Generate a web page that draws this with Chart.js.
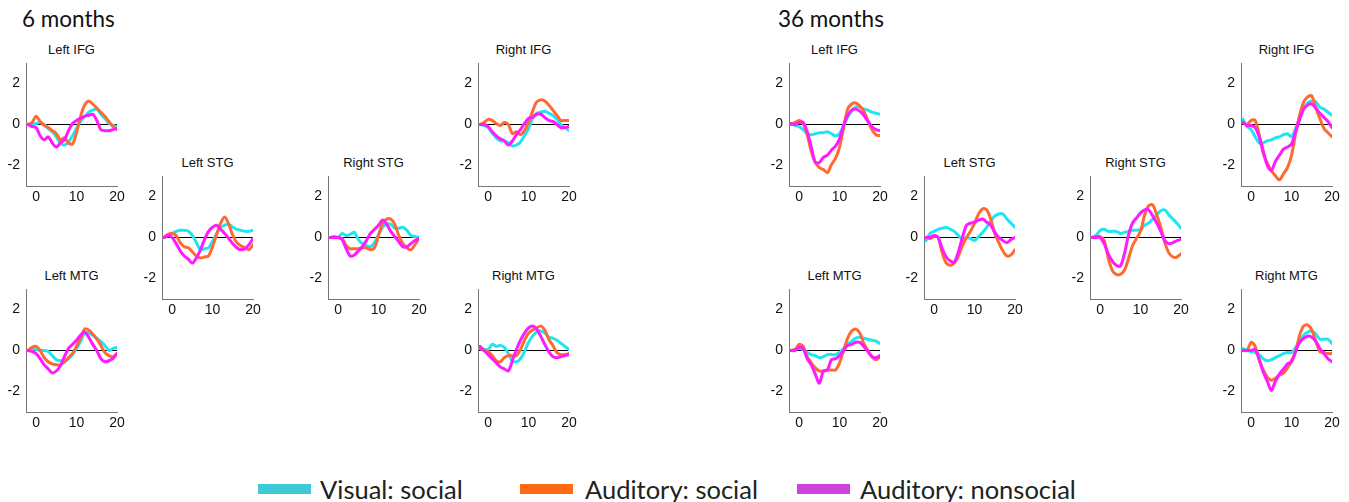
<!DOCTYPE html>
<html>
<head>
<meta charset="utf-8">
<script src="https://cdn.jsdelivr.net/npm/chart.js@4.4.0/dist/chart.umd.min.js"></script>
<style>
    body { margin: 0; background: #fff; width: 1349px; height: 502px; position: relative; overflow: hidden; font-family: "Liberation Sans", Arial, sans-serif; }
    canvas { position: absolute; }
    .group { position: absolute; font-family: Lato, "Open Sans", sans-serif; font-size: 22.5px; line-height: 26px; color: #111; }
    .ptitle { position: absolute; width: 91px; text-align: center; font-size: 13px; line-height: 16px; color: #111; white-space: nowrap; }
    .swatch { position: absolute; height: 10px; }
    .ltext { position: absolute; font-family: Lato, "Open Sans", sans-serif; font-size: 25.5px; line-height: 30px; color: #222; white-space: nowrap; }
</style>
</head>
<body>
<script>
// time axis (s) and ticks
const timeSec = [-2, -1, 0, 1, 2, 3, 4, 5, 6, 7, 8, 9, 10, 11, 12, 13, 14, 15, 16, 17, 18, 19, 20];
const xTicks = [0, 10, 20];
const yTicks = [-2, 0, 2];
const groupLabels = ["6 months", "36 months"];
const seriesNames = ["Visual: social", "Auditory: social", "Auditory: nonsocial"];

// ---- 6 months ----
const m6LeftIFG_vis  = [0, 0, 0.05, 0.1, 0, -0.2, -0.35, -0.6, -0.9, -1.0, -0.85, -0.55, -0.2, 0.15, 0.4, 0.6, 0.7, 0.75, 0.5, 0.3, 0.05, -0.05, -0.1];
const m6LeftIFG_aud  = [0, 0.1, 0.4, 0.15, -0.05, -0.15, -0.3, -0.45, -0.75, -0.65, -0.9, -0.95, -0.4, 0.4, 0.95, 1.15, 1.0, 0.8, 0.6, 0.4, 0.15, -0.1, -0.25];
const m6LeftIFG_non  = [0, -0.1, -0.15, -0.55, -0.75, -0.6, -0.9, -1.1, -0.9, -0.75, -0.3, 0.05, 0.2, 0.3, 0.4, 0.45, 0.5, 0.2, -0.25, -0.3, -0.3, -0.25, -0.2];

const m6LeftSTG_vis  = [0, 0.1, 0.2, 0.3, 0.35, 0.35, 0.3, 0.1, -0.25, -0.6, -0.55, -0.5, -0.2, 0.2, 0.5, 0.6, 0.65, 0.5, 0.4, 0.35, 0.3, 0.3, 0.35];
const m6LeftSTG_aud  = [0, 0.15, 0.2, 0.1, -0.25, -0.45, -0.5, -0.7, -0.9, -1.0, -0.95, -0.9, -0.45, 0.15, 0.7, 1.0, 0.65, 0.1, -0.25, -0.4, -0.5, -0.6, -0.35];
const m6LeftSTG_non  = [0, 0.1, 0, -0.3, -0.65, -0.9, -1.05, -1.25, -1.0, -0.6, -0.1, 0.3, 0.5, 0.6, 0.4, 0.2, -0.05, -0.3, -0.5, -0.6, -0.55, -0.35, -0.05];

const m6RightSTG_vis = [0, 0, 0, 0.2, 0.1, 0.15, 0.25, -0.1, -0.3, -0.4, -0.45, -0.25, 0.15, 0.5, 0.65, 0.65, 0.45, 0.45, 0.5, 0.35, 0.1, 0.05, 0];
const m6RightSTG_aud = [0, 0.05, 0, -0.05, -0.4, -0.55, -0.55, -0.55, -0.5, -0.5, -0.6, -0.5, 0.1, 0.7, 0.9, 0.9, 0.65, 0.1, -0.3, -0.5, -0.6, -0.35, -0.05];
const m6RightSTG_non = [0, 0, 0, -0.1, -0.55, -0.9, -0.85, -0.65, -0.45, -0.15, 0.2, 0.4, 0.6, 0.85, 0.65, 0.3, 0.05, -0.2, -0.45, -0.45, -0.3, -0.15, -0.05];

const m6RightIFG_vis = [0, -0.05, -0.15, -0.4, -0.65, -0.8, -0.8, -0.9, -1.05, -1.0, -0.85, -0.55, -0.2, 0.3, 0.55, 0.6, 0.65, 0.55, 0.45, 0.25, 0, -0.15, -0.3];
const m6RightIFG_aud = [0, 0.1, 0.25, 0.2, 0.05, -0.05, 0.1, 0, -0.45, -0.35, -0.5, -0.3, 0.1, 0.65, 1.1, 1.2, 1.15, 0.95, 0.7, 0.45, 0.2, 0.2, 0.2];
const m6RightIFG_non = [0, 0, -0.1, -0.35, -0.55, -0.7, -0.8, -1.0, -0.8, -0.5, -0.25, 0.05, 0.3, 0.35, 0.5, 0.5, 0.35, 0.2, 0.15, 0, -0.15, -0.15, -0.1];

const m6LeftMTG_vis  = [0, 0.05, 0.05, 0, 0, -0.05, -0.25, -0.45, -0.5, -0.5, -0.4, -0.2, 0.1, 0.45, 0.85, 0.85, 0.75, 0.6, 0.45, 0.25, 0, 0.1, 0.15];
const m6LeftMTG_aud  = [0, 0.15, 0.2, 0, -0.35, -0.55, -0.65, -0.7, -0.7, -0.55, -0.35, -0.15, 0.2, 0.6, 1.05, 1.0, 0.8, 0.55, 0.25, -0.1, -0.25, -0.3, -0.15];
const m6LeftMTG_non  = [0, -0.05, -0.15, -0.4, -0.7, -0.9, -1.1, -1.0, -0.75, -0.3, 0.1, 0.3, 0.5, 0.75, 0.9, 0.65, 0.3, 0, -0.4, -0.55, -0.5, -0.4, -0.15];

const m6RightMTG_vis = [0.1, 0.05, 0.05, 0.3, 0.2, 0.25, 0.15, -0.15, -0.5, -0.55, -0.4, -0.05, 0.4, 0.7, 0.9, 0.95, 0.85, 0.65, 0.6, 0.5, 0.35, 0.2, 0.05];
const m6RightMTG_aud = [0.1, 0, -0.05, -0.25, -0.5, -0.55, -0.35, -0.25, -0.25, -0.25, 0.05, 0.5, 0.85, 1.0, 1.1, 1.2, 1.0, 0.55, 0.25, -0.1, -0.2, -0.2, -0.15];
const m6RightMTG_non = [0.2, 0, -0.2, -0.4, -0.6, -0.8, -0.9, -1.0, -0.5, 0.05, 0.5, 0.85, 1.1, 1.2, 1.05, 0.7, 0.3, -0.05, -0.3, -0.35, -0.3, -0.25, -0.2];

// ---- 36 months ----
const m36LeftIFG_vis  = [0.05, -0.05, -0.1, -0.25, -0.45, -0.5, -0.45, -0.4, -0.4, -0.35, -0.45, -0.55, -0.45, -0.05, 0.35, 0.65, 0.85, 0.85, 0.75, 0.7, 0.6, 0.55, 0.5];
const m36LeftIFG_aud  = [0, 0.1, 0.2, 0.05, -0.5, -1.3, -1.85, -2.1, -2.2, -2.35, -1.95, -1.65, -1.1, -0.15, 0.75, 1.0, 1.05, 0.9, 0.65, 0.2, -0.25, -0.5, -0.55];
const m36LeftIFG_non  = [0.05, 0, 0.1, 0.1, -0.35, -1.1, -1.85, -1.85, -1.6, -1.5, -1.25, -1.05, -0.7, -0.05, 0.45, 0.7, 0.75, 0.65, 0.45, 0.15, -0.1, -0.25, -0.3];

const m36LeftSTG_vis  = [-0.15, 0.2, 0.3, 0.4, 0.45, 0.5, 0.4, 0.3, 0.1, -0.1, 0, -0.05, -0.15, 0.05, 0.25, 0.5, 0.8, 1.05, 1.15, 1.15, 0.9, 0.7, 0.5];
const m36LeftSTG_aud  = [0, -0.05, 0.05, 0, -0.75, -1.25, -1.35, -1.25, -0.9, -0.4, 0, 0.3, 0.7, 1.15, 1.4, 1.35, 0.9, 0.2, -0.25, -0.65, -0.9, -0.85, -0.6];
const m36LeftSTG_non  = [0, 0, 0.1, 0, -0.55, -0.95, -1.15, -1.2, -0.7, 0, 0.6, 0.7, 0.75, 0.85, 0.9, 0.75, 0.6, 0.25, 0, -0.15, -0.25, -0.1, 0];

const m36RightSTG_vis = [0, 0.1, 0.35, 0.4, 0.3, 0.3, 0.3, 0.2, 0.25, 0.3, 0.35, 0.35, 0.4, 0.6, 0.7, 0.9, 1.1, 1.3, 1.35, 1.1, 0.9, 0.7, 0.45];
const m36RightSTG_aud = [0, 0.05, 0.05, -0.15, -1.0, -1.6, -1.8, -1.8, -1.6, -1.05, -0.4, -0.05, 0.3, 1.1, 1.55, 1.6, 1.1, 0.5, -0.25, -0.75, -0.95, -0.95, -0.8];
const m36RightSTG_non = [0, 0, 0, -0.3, -0.8, -1.15, -1.35, -1.4, -0.8, 0.1, 0.7, 0.95, 1.2, 1.35, 1.35, 1.05, 0.7, 0.3, -0.15, -0.3, -0.25, -0.15, -0.1];

const m36RightIFG_vis = [0.25, -0.1, -0.25, -0.6, -0.9, -0.9, -0.8, -0.75, -0.65, -0.6, -0.5, -0.45, -0.6, -0.2, 0.3, 0.8, 1.05, 1.15, 1.1, 0.85, 0.75, 0.6, 0.45];
const m36RightIFG_aud = [0.1, 0, 0.2, 0.2, -0.5, -1.4, -1.9, -2.25, -2.5, -2.7, -2.4, -2.1, -1.5, -0.45, 0.45, 1.1, 1.35, 1.4, 0.8, 0.3, -0.2, -0.4, -0.6];
const m36RightIFG_non = [0.1, -0.05, -0.05, -0.15, -0.6, -1.3, -2.0, -2.25, -1.8, -1.5, -1.2, -1.1, -0.95, -0.35, 0.25, 0.75, 0.95, 1.0, 0.8, 0.55, 0.35, 0.15, -0.15];

const m36LeftMTG_vis  = [0, 0.05, 0.1, 0.05, -0.1, -0.2, -0.25, -0.35, -0.3, -0.2, -0.2, -0.2, -0.1, 0.1, 0.3, 0.45, 0.6, 0.65, 0.6, 0.55, 0.5, 0.45, 0.35];
const m36LeftMTG_aud  = [0, 0.05, 0.3, 0.2, -0.3, -0.6, -0.85, -1.0, -1.0, -0.95, -0.95, -0.95, -0.6, 0, 0.6, 0.95, 1.05, 0.85, 0.35, 0, -0.3, -0.45, -0.3];
const m36LeftMTG_non  = [0, 0, 0.15, 0.1, -0.4, -0.7, -1.15, -1.6, -1.0, -0.95, -0.45, -0.4, -0.25, 0, 0.25, 0.3, 0.4, 0.4, 0.2, -0.05, -0.3, -0.35, -0.25];

const m36RightMTG_vis = [0.1, 0, -0.05, -0.1, -0.2, -0.4, -0.5, -0.45, -0.35, -0.25, -0.15, -0.1, -0.1, 0.15, 0.45, 0.75, 0.9, 0.95, 0.8, 0.55, 0.55, 0.55, 0.35];
const m36RightMTG_aud = [0, 0, 0.4, 0.2, -0.45, -0.95, -1.3, -1.45, -1.35, -1.2, -1.1, -0.85, -0.5, -0.05, 0.75, 1.2, 1.25, 1.0, 0.45, -0.05, -0.1, -0.15, -0.15];
const m36RightMTG_non = [0, 0, 0, 0.05, -0.45, -1.05, -1.5, -1.95, -1.5, -1.15, -0.9, -0.65, -0.55, -0.05, 0.4, 0.6, 0.7, 0.65, 0.45, 0.1, -0.15, -0.4, -0.55];

// colours
const LINE_COLORS = ["#1ee6f0", "#ff6a33", "#ff1aff"];
const KEY_COLORS = ["#3ec9d6", "#ff6a14", "#cc44dd"];

// panel placement: left edge / top edge of each plot area
const panels = [
    { title: "Left IFG",  x: 26,   y: 63,  d: [m6LeftIFG_vis, m6LeftIFG_aud, m6LeftIFG_non] },
    { title: "Left STG",  x: 162,  y: 176, d: [m6LeftSTG_vis, m6LeftSTG_aud, m6LeftSTG_non] },
    { title: "Right STG", x: 328,  y: 176, d: [m6RightSTG_vis, m6RightSTG_aud, m6RightSTG_non] },
    { title: "Right IFG", x: 478,  y: 63,  d: [m6RightIFG_vis, m6RightIFG_aud, m6RightIFG_non] },
    { title: "Left MTG",  x: 26,   y: 289, d: [m6LeftMTG_vis, m6LeftMTG_aud, m6LeftMTG_non] },
    { title: "Right MTG", x: 478,  y: 289, d: [m6RightMTG_vis, m6RightMTG_aud, m6RightMTG_non] },
    { title: "Left IFG",  x: 789,  y: 63,  d: [m36LeftIFG_vis, m36LeftIFG_aud, m36LeftIFG_non] },
    { title: "Left STG",  x: 924,  y: 176, d: [m36LeftSTG_vis, m36LeftSTG_aud, m36LeftSTG_non] },
    { title: "Right STG", x: 1090, y: 176, d: [m36RightSTG_vis, m36RightSTG_aud, m36RightSTG_non] },
    { title: "Right IFG", x: 1241, y: 63,  d: [m36RightIFG_vis, m36RightIFG_aud, m36RightIFG_non] },
    { title: "Left MTG",  x: 789,  y: 289, d: [m36LeftMTG_vis, m36LeftMTG_aud, m36LeftMTG_non] },
    { title: "Right MTG", x: 1241, y: 289, d: [m36RightMTG_vis, m36RightMTG_aud, m36RightMTG_non] }
];

const PLOT_W = 91, PLOT_H = 123;
const Y_AXIS_W = 28, X_AXIS_H = 22, PAD_TOP = 5, PAD_RIGHT = 12;
const tickFont = { family: "'Liberation Sans', Arial, sans-serif", size: 14 };

function addText(cls, text, left, top) {
    const el = document.createElement("div");
    el.className = cls;
    el.textContent = text;
    el.style.left = left + "px";
    el.style.top = top + "px";
    document.body.appendChild(el);
    return el;
}

function makePanel(p) {
    addText("ptitle", p.title, p.x, p.y - 21);

    const cv = document.createElement("canvas");
    cv.width = Y_AXIS_W + PLOT_W + PAD_RIGHT;
    cv.height = PAD_TOP + PLOT_H + X_AXIS_H;
    cv.style.left = (p.x - Y_AXIS_W) + "px";
    cv.style.top = (p.y - PAD_TOP) + "px";
    document.body.appendChild(cv);

    // magenta on top, then orange, cyan underneath
    const datasets = p.d.map((arr, i) => ({
        label: seriesNames[i],
        data: timeSec.map((t, j) => ({ x: t, y: arr[j] })),
        borderColor: LINE_COLORS[i],
        order: 3 - i
    }));

    new Chart(cv, {
        type: "line",
        data: { datasets },
        options: {
            responsive: false,
            animation: false,
            layout: { padding: { top: PAD_TOP, right: PAD_RIGHT, left: 0, bottom: 0 } },
            plugins: { legend: { display: false }, tooltip: { enabled: false } },
            elements: {
                point: { radius: 0 },
                line: { tension: 0.3, borderWidth: 3, borderCapStyle: "round", borderJoinStyle: "round", fill: false }
            },
            scales: {
                x: {
                    type: "linear", min: -2.5, max: 20,
                    afterBuildTicks: s => { s.ticks = xTicks.map(v => ({ value: v })); },
                    afterFit: s => { s.height = X_AXIS_H; s.paddingLeft = 0; s.paddingRight = 0; },
                    grid: { display: false, drawTicks: false },
                    border: { display: true, color: "#777", width: 1 },
                    ticks: { color: "#111", font: tickFont, padding: 3, maxRotation: 0, autoSkip: false }
                },
                y: {
                    min: -3, max: 3,
                    afterBuildTicks: s => { s.ticks = yTicks.map(v => ({ value: v })); },
                    afterFit: s => { s.width = Y_AXIS_W; s.paddingTop = 0; s.paddingBottom = 0; },
                    grid: {
                        drawTicks: false,
                        lineWidth: 1,
                        color: c => (c.tick && c.tick.value === 0) ? "#000" : "rgba(0,0,0,0)"
                    },
                    border: { display: true, color: "#777", width: 1 },
                    ticks: { color: "#111", font: tickFont, padding: 6 }
                }
            }
        }
    });
}

addText("group", groupLabels[0], 22, 6);
addText("group", groupLabels[1], 778, 6);

panels.forEach(makePanel);

// shared key at the bottom
const keyPos = [[258, 320], [520, 585], [797, 860]];
seriesNames.forEach((name, i) => {
    const sw = document.createElement("div");
    sw.className = "swatch";
    sw.style.left = keyPos[i][0] + "px";
    sw.style.top = "484px";
    sw.style.width = "53px";
    sw.style.background = KEY_COLORS[i];
    document.body.appendChild(sw);
    addText("ltext", name, keyPos[i][1], 474);
});
</script>
</body>
</html>
